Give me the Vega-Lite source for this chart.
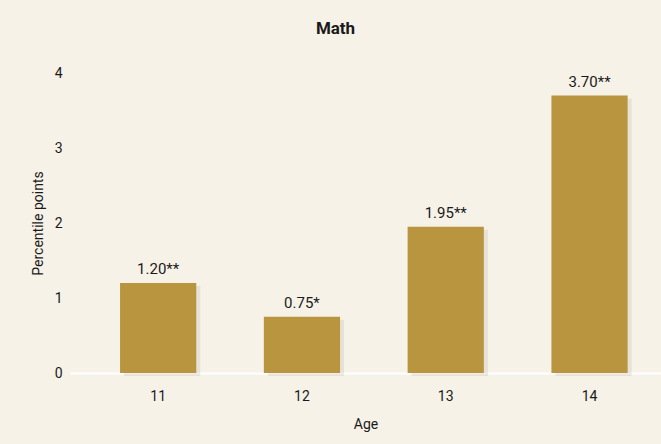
{
  "$schema": "https://vega.github.io/schema/vega-lite/v6.json",
  "width": 591,
  "height": 300,
  "autosize": {"type": "none"},
  "padding": {"left": 70, "top": 73, "right": 0, "bottom": 71},
  "background": "#f6f2e8",
  "config": {
    "view": {"stroke": null},
    "font": "Roboto"
  },
  "title": {
    "text": "Math",
    "fontSize": 17,
    "fontWeight": "bold",
    "color": "#1a1a1a",
    "offset": 28,
    "dx": -30,
    "anchor": "middle"
  },
  "data": {
    "values": [
      {"age": "11", "value": 1.2, "label": "1.20**"},
      {"age": "12", "value": 0.75, "label": "0.75*"},
      {"age": "13", "value": 1.95, "label": "1.95**"},
      {"age": "14", "value": 3.7, "label": "3.70**"}
    ]
  },
  "encoding": {
    "x": {
      "field": "age",
      "type": "nominal",
      "scale": {"paddingInner": 0.47, "paddingOuter": 0.29, "align": 0.6},
      "axis": {
        "title": "Age",
        "titleFontSize": 14,
        "titleFontWeight": "normal",
        "titleColor": "#1a1a1a",
        "titlePadding": 14,
        "labelAngle": 0,
        "labelFontSize": 14,
        "labelColor": "#1a1a1a",
        "labelPadding": 16,
        "ticks": false,
        "domainColor": "#ffffff",
        "domainWidth": 2
      }
    },
    "y": {
      "field": "value",
      "type": "quantitative",
      "scale": {"domain": [0, 4], "nice": false},
      "axis": {
        "title": "Percentile points",
        "titleFontSize": 14,
        "titleFontWeight": "normal",
        "titleColor": "#1a1a1a",
        "titlePadding": 9,
        "values": [0, 1, 2, 3, 4],
        "labelFontSize": 14,
        "labelColor": "#1a1a1a",
        "labelPadding": 8,
        "ticks": false,
        "domain": false,
        "grid": false
      }
    }
  },
  "layer": [
    {
      "mark": {"type": "bar", "color": "#8a8478", "opacity": 0.15, "xOffset": 4, "yOffset": 3}
    },
    {
      "mark": {"type": "bar", "color": "#b9953f"}
    },
    {
      "mark": {"type": "text", "baseline": "bottom", "dy": -6, "fontSize": 15, "color": "#1a1a1a"},
      "encoding": {"text": {"field": "label"}}
    }
  ]
}
